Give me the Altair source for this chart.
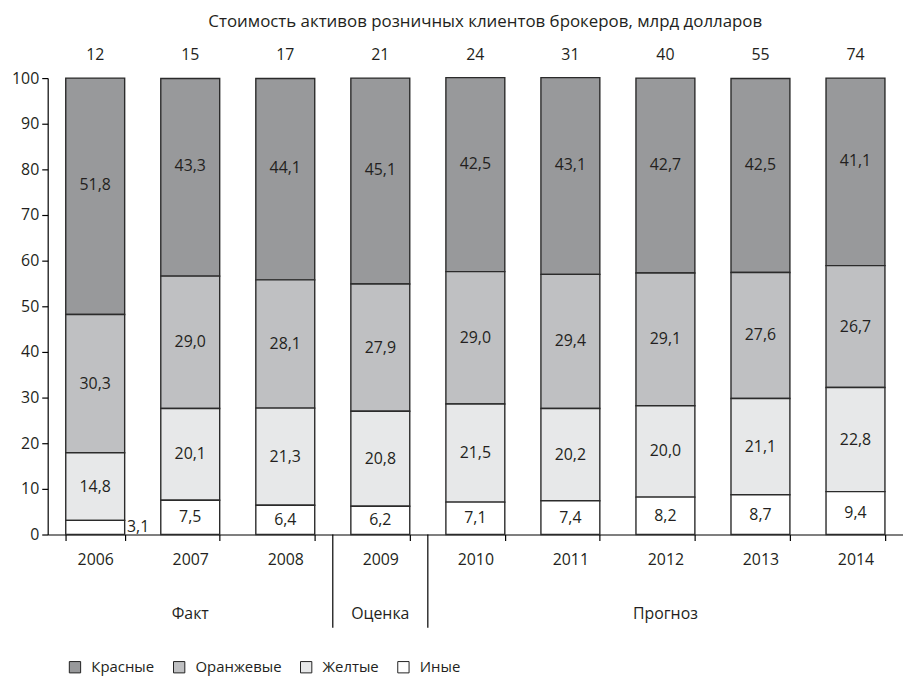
import altair as alt
import pandas as pd

years = ["2006", "2007", "2008", "2009", "2010", "2011", "2012", "2013", "2014"]
totals = [12, 15, 17, 21, 24, 31, 40, 55, 74]
series = ["Красные", "Оранжевые", "Желтые", "Иные"]
red = [51.8, 43.3, 44.1, 45.1, 42.5, 43.1, 42.7, 42.5, 41.1]
orange = [30.3, 29.0, 28.1, 27.9, 29.0, 29.4, 29.1, 27.6, 26.7]
yellow = [14.8, 20.1, 21.3, 20.8, 21.5, 20.2, 20.0, 21.1, 22.8]
other = [3.1, 7.5, 6.4, 6.2, 7.1, 7.4, 8.2, 8.7, 9.4]
groups = ["Факт", "Оценка", "Прогноз"]
group_centers = ["2007", "2009", "2012"]
separators_after = ["2008", "2009"]
title_text = "Стоимость активов розничных клиентов брокеров, млрд долларов"
colors = ["#98999b", "#bfc0c2", "#e7e8e9", "#ffffff"]

FONT = "Open Sans"
TXT = "#231f20"
FS = 16

rows = []
for name, vals in zip(series, [red, orange, yellow, other]):
    for y, v in zip(years, vals):
        rows.append({"year": y, "series": name, "value": v,
                     "order": 3 - series.index(name),
                     "label": f"{v:.1f}".replace(".", ",")})
df = pd.DataFrame(rows)
tot_df = pd.DataFrame({"year": years, "total": [str(t) for t in totals]})
grp_df = pd.DataFrame({"year": group_centers, "group": groups})
sep_df = pd.DataFrame({"year": separators_after})

W, H = 862, 460
xscale = alt.Scale(domain=years, paddingInner=0.38, paddingOuter=0.19)
xedge = alt.Scale(domain=years, paddingInner=0, paddingOuter=0)
xenc = alt.X("year:N", scale=xscale,
             axis=alt.Axis(title=None, labelAngle=0, tickBand="extent", tickSize=6,
                           labelPadding=11, labelFontSize=FS, labelFont=FONT,
                           labelColor=TXT, domainColor="#000", tickColor="#000",
                           domainWidth=1.2, tickWidth=1.2))
yscale = alt.Scale(domain=[0, 100], nice=False)


def xn():
    return alt.X("year:N", scale=xscale, axis=None)


def ymid():
    return alt.Y("mid:Q", scale=yscale)


base = alt.Chart(df).transform_stack(
    stack="value", groupby=["year"], sort=[alt.SortField("order")], as_=["y0", "y1"]
).transform_calculate(mid="(datum.y0 + datum.y1) / 2")

bars = base.mark_bar(stroke="#2b2b2b", strokeWidth=1.4).encode(
    x=xenc,
    y=alt.Y("y0:Q", scale=yscale,
            axis=alt.Axis(title=None, values=list(range(0, 101, 10)), tickSize=6,
                          labelFontSize=FS, labelFont=FONT, labelColor=TXT,
                          domainColor="#000", tickColor="#000", grid=False,
                          domainWidth=1.2, tickWidth=1.2, labelPadding=3)),
    y2="y1:Q",
    fill=alt.Fill("series:N", scale=alt.Scale(domain=series, range=colors),
                  legend=alt.Legend(title=None, orient="none", legendX=20, legendY=586,
                                    direction="horizontal", symbolType="square",
                                    symbolSize=130, symbolStrokeColor="#222",
                                    symbolStrokeWidth=1, labelFontSize=15,
                                    labelFont=FONT, labelColor=TXT, columnPadding=16,
                                    labelOffset=9)),
)

labels_red = base.transform_filter("datum.series == 'Красные'").mark_text(
    font=FONT, fontSize=FS, color=TXT, baseline="middle", dy=-11
).encode(x=xn(), y=ymid(), text="label:N")

labels_in = base.transform_filter(
    "datum.value >= 5 && datum.series != 'Красные'").mark_text(
    font=FONT, fontSize=FS, color=TXT, baseline="middle"
).encode(x=xn(), y=ymid(), text="label:N")

labels_out = base.transform_filter("datum.value < 5").mark_text(
    font=FONT, fontSize=FS, color=TXT, baseline="middle", align="left", dx=32
).encode(x=xn(), y=ymid(), text="label:N")

tot = alt.Chart(tot_df).mark_text(font=FONT, fontSize=FS, color=TXT, baseline="middle").encode(
    x=xn(), y=alt.value(-23), text="total:N")

grp = alt.Chart(grp_df).mark_text(font=FONT, fontSize=FS, color=TXT, baseline="middle").encode(
    x=xn(), y=alt.value(540), text="group:N")

sep = alt.Chart(sep_df).mark_rule(color="#000", strokeWidth=1.2).encode(
    x=alt.X("year:N", scale=xedge, axis=None, bandPosition=1),
    y=alt.value(H), y2=alt.value(554))

ttl = alt.Chart(pd.DataFrame({"t": [title_text]})).mark_text(
    font=FONT, fontSize=17, color=TXT, baseline="middle"
).encode(x=alt.value(441), y=alt.value(-56), text="t:N")

chart = alt.layer(bars, labels_red, labels_in, labels_out, tot, grp, sep, ttl).resolve_scale(
    x="independent"
).properties(
    width=W, height=H,
    autosize=alt.AutoSizeParams(type="none"),
    padding={"left": 40, "top": 68, "right": 0, "bottom": 145},
).configure_view(stroke=None).configure_axis(labelFlush=False)

chart.save("out.html", embed_options={"renderer": "svg", "actions": False})
